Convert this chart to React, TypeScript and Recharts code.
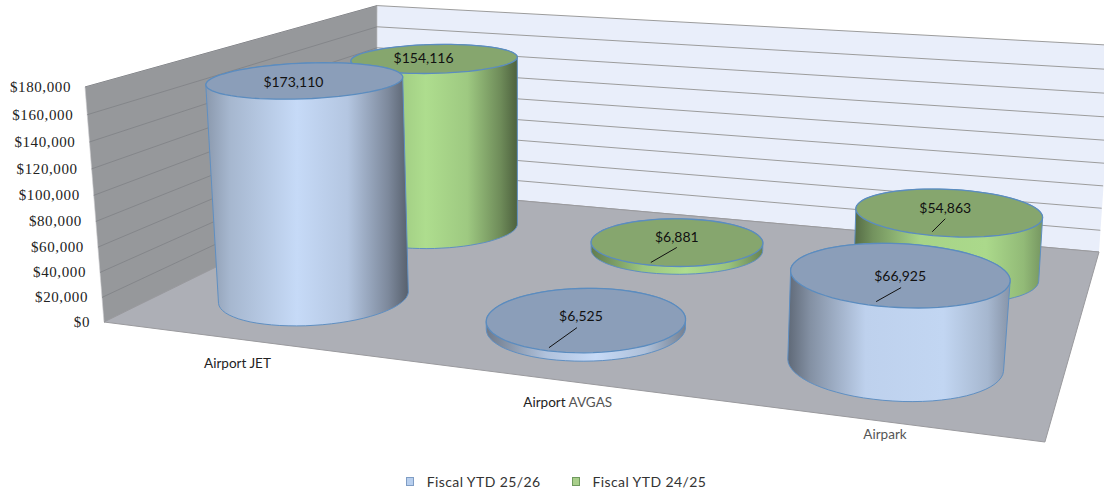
import React from "react";
import { BarChart, Bar, XAxis, YAxis, Legend, Customized } from "recharts";

const categories = ["Airport JET", "Airport AVGAS", "Airpark"];
const fiscal2526 = [173110, 6525, 66925];
const fiscal2425 = [154116, 6881, 54863];
const yTicks = [0, 20000, 40000, 60000, 80000, 100000, 120000, 140000, 160000, 180000];
const seriesNames = ["Fiscal YTD 25/26", "Fiscal YTD 24/25"];

const chartData = categories.map((name, i) => ({ name, current: fiscal2526[i], previous: fiscal2425[i] }));

const WIDTH = 1104;
const HEIGHT = 493;
const PLOT_TOP = 88;
const PLOT_BOTTOM = 321;
const PLOT_H = PLOT_BOTTOM - PLOT_TOP;

// camera for the fake 3D box: u = along categories, v = depth, t = height
const project = (u: number, v: number, t: number) => {
  const w = -0.1878 * u + 0.3174 * v - 0.0651 * t + 1;
  return {
    x: (744.7 * u + 392.7 * v - 24.5 * t + 104) / w - 30 * u * t,
    y: (37 * u - 74.3 * v - 240.7 * t + 322) / w + 4 * u * t,
  };
};

const toPoints = (pts: { x: number; y: number }[]) => pts.map((p) => `${p.x.toFixed(1)},${p.y.toFixed(1)}`).join(" ");

const hull = (pts: { x: number; y: number }[]) => {
  const s = [...pts].sort((a, b) => a.x - b.x || a.y - b.y);
  const cross = (o: any, a: any, b: any) => (a.x - o.x) * (b.y - o.y) - (a.y - o.y) * (b.x - o.x);
  const half = (list: typeof s) => {
    const out: typeof s = [];
    list.forEach((p) => {
      while (out.length >= 2 && cross(out[out.length - 2], out[out.length - 1], p) <= 0) out.pop();
      out.push(p);
    });
    out.pop();
    return out;
  };
  return [...half(s), ...half([...s].reverse())];
};

const shade = (rgb: number[], k: number) => `rgb(${rgb.map((c) => Math.round(c * k)).join(",")})`;

const BLUE = [198, 218, 247];
const GREEN = [174, 221, 142];
const SHADING = [
  [[0, 0.7], [0.12, 0.84], [0.45, 1], [0.7, 0.91], [0.9, 0.63], [1, 0.44]],
  [[0, 0.56], [0.3, 0.89], [0.55, 1], [0.8, 0.88], [1, 0.59]],
  [[0, 0.48], [0.1, 0.66], [0.35, 0.96], [0.7, 0.98], [0.9, 0.84], [1, 0.68]],
];

const Scene = () => {
  const grid = yTicks.map((v) => v / yTicks[yTicks.length - 1]);
  return (
    <g>
      <defs>
        {[{ id: "blue", rgb: BLUE }, { id: "green", rgb: GREEN }].map((c) =>
          SHADING.map((stops, i) => (
            <linearGradient key={c.id + i} id={`${c.id}${i}`} x1="0" y1="0" x2="1" y2="0">
              {stops.map(([o, k]) => (
                <stop key={o} offset={o} stopColor={shade(c.rgb, k)} />
              ))}
            </linearGradient>
          ))
        )}
      </defs>
      <polygon
        points={toPoints([project(0, 1, 0), project(1, 1, 0), project(1, 1, 1), project(0, 1, 1)])}
        fill="#e9eefa"
      />
      <polygon
        points={toPoints([project(0, 0, 0), project(0, 1, 0), project(0, 1, 1), project(0, 0, 1)])}
        fill="#96989b"
        stroke="#c9cacc"
        strokeWidth={0.6}
      />
      {grid.map((t) => {
        const a = project(0, 0, t);
        const b = project(0, 1, t);
        const c = project(1, 1, t);
        return (
          <g key={t}>
            <line x1={a.x} y1={a.y} x2={b.x} y2={b.y} stroke="#84868a" strokeWidth={1} />
            <line x1={b.x} y1={b.y} x2={c.x} y2={c.y} stroke="#9c9c9c" strokeWidth={1} />
          </g>
        );
      })}
      <polygon
        points={toPoints([project(0, 0, 0), project(1, 0, 0), project(1, 1, 0), project(0, 1, 0)])}
        fill="#adafb6"
        stroke="#9a9a9e"
        strokeWidth={1}
      />
    </g>
  );
};

// where each value label sits relative to the cylinder top, plus its leader line
const LABEL_SPOTS: Record<string, any[]> = {
  current: [
    { dx: -9, dy: 2 },
    { dx: -2, dy: -3, lead: [-4, 12, -32, 32] },
    { dx: 4, dy: 2, lead: [1, 12, -24, 26] },
  ],
  previous: [
    { dx: -8, dy: -1 },
    { dx: 3, dy: -5, lead: [0, 11, -26, 26] },
    { dx: 0, dy: -4, lead: [0, 11, -13, 24] },
  ],
};

const circle = (cu: number, cv: number, t: number) => {
  const pts = [];
  for (let a = 0; a < 72; a++) {
    const r = (a / 72) * Math.PI * 2;
    const p = project(cu + 0.107 * Math.cos(r), cv + 0.17 * Math.sin(r), t);
    pts.push({ x: p.x + 3, y: p.y });
  }
  return pts;
};

const Cylinder = (props: any) => {
  const { index, height, value, series } = props;
  const isCurrent = series === "current";
  const u = (index + 0.5) / categories.length;
  const v = isCurrent ? 0.25 : 0.75;
  const t = height / PLOT_H;
  const base = circle(u, v, 0);
  const top = circle(u, v, t);
  const c = project(u, v, t);
  const spot = LABEL_SPOTS[series][index];
  const lx = c.x + spot.dx;
  const ly = c.y + spot.dy;
  return (
    <g>
      <polygon
        points={toPoints(hull([...base, ...top]))}
        fill={`url(#${isCurrent ? "blue" : "green"}${index})`}
        stroke="#5f8fc2"
        strokeWidth={1}
      />
      <polygon points={toPoints(top)} fill={isCurrent ? "#8b9eb9" : "#86a66e"} stroke="#5b8cbf" strokeWidth={1.3} />
      {spot.lead && (
        <line
          x1={lx + spot.lead[0]}
          y1={ly + spot.lead[1]}
          x2={lx + spot.lead[2]}
          y2={ly + spot.lead[3]}
          stroke="#111"
          strokeWidth={1}
        />
      )}
      <text x={lx} y={ly} textAnchor="middle" dominantBaseline="central" fontFamily="Lato" fontSize={14} fill="#111">
        {`$${Number(value).toLocaleString("en-US")}`}
      </text>
    </g>
  );
};

const ValueTick = ({ y, payload }: any) => {
  const p = project(0, 0, (PLOT_BOTTOM - y) / PLOT_H);
  return (
    <text
      x={p.x - 14}
      y={p.y}
      textAnchor="end"
      dominantBaseline="central"
      fontFamily="Liberation Serif"
      fontSize={15}
      letterSpacing={0.6}
      fill="#222"
    >
      {`$${payload.value.toLocaleString("en-US")}`}
    </text>
  );
};

const CATEGORY_NUDGE = [
  { dx: 2, dy: 24 },
  { dx: 42, dy: 26 },
  { dx: 26, dy: 16 },
];

const CategoryTick = ({ payload, index }: any) => {
  const p = project((index + 0.5) / categories.length, 0, 0);
  const words = String(payload.value).split(" ");
  return (
    <text
      x={p.x + CATEGORY_NUDGE[index].dx}
      y={p.y + CATEGORY_NUDGE[index].dy}
      textAnchor="middle"
      dominantBaseline="central"
      fontFamily="Lato"
      fontSize={13.5}
    >
      {words.map((w: string, i: number) => (
        <tspan key={w} fill={w === "Airport" || w === "JET" ? "#222" : "#555"}>
          {i > 0 ? ` ${w}` : w}
        </tspan>
      ))}
    </text>
  );
};

const LegendBox = () => (
  <div
    style={{
      display: "flex",
      justifyContent: "center",
      paddingLeft: 8,
      fontFamily: "Lato",
      fontSize: 14,
      letterSpacing: 0.4,
      color: "#333",
    }}
  >
    {seriesNames.map((name, i) => (
      <div key={name} style={{ display: "flex", alignItems: "center", marginRight: i === 0 ? 31 : 0 }}>
        <span
          style={{
            width: 6,
            height: 7,
            marginRight: 13,
            background: i === 0 ? "#b8cfee" : "#a9cf8b",
            border: `1px solid ${i === 0 ? "#7f9dc4" : "#6f9a5e"}`,
          }}
        />
        {name}
      </div>
    ))}
  </div>
);

export default function App() {
  return (
    <div style={{ position: "absolute", left: 0, top: 0, width: WIDTH, height: HEIGHT, overflow: "hidden", background: "#fff" }}>
      <BarChart
        width={WIDTH}
        height={HEIGHT}
        data={chartData}
        margin={{ top: PLOT_TOP, right: 0, bottom: HEIGHT - PLOT_BOTTOM - 30 - 30, left: 0 }}
      >
        <Customized component={Scene} />
        <XAxis dataKey="name" height={30} axisLine={false} tickLine={false} tick={CategoryTick} interval={0} />
        <YAxis width={100} domain={[0, 180000]} ticks={yTicks} axisLine={false} tickLine={false} tick={ValueTick} interval={0} />
        <Legend
          verticalAlign="bottom"
          height={30}
          content={LegendBox}
          wrapperStyle={{ left: 0, width: WIDTH, bottom: -10 }}
        />
        <Bar dataKey="previous" name={seriesNames[1]} isAnimationActive={false} shape={(p: any) => <Cylinder {...p} series="previous" />} />
        <Bar dataKey="current" name={seriesNames[0]} isAnimationActive={false} shape={(p: any) => <Cylinder {...p} series="current" />} />
      </BarChart>
    </div>
  );
}
